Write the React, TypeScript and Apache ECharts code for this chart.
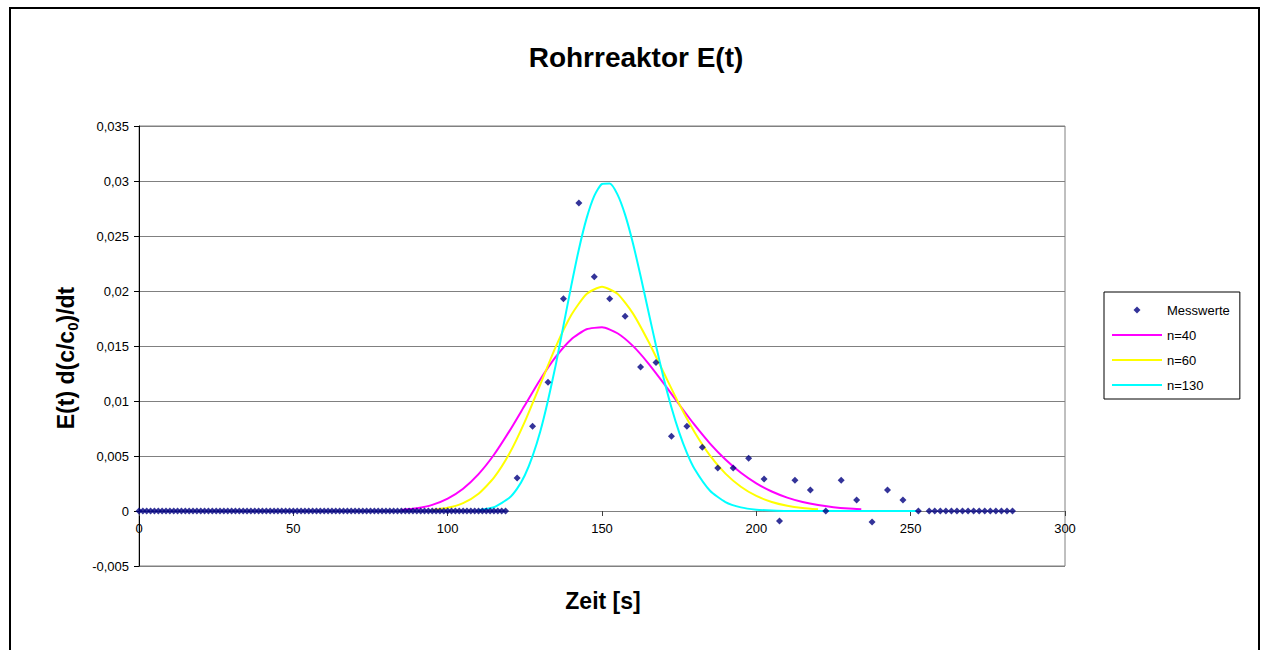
import React, { useEffect, useRef } from "react";
import * as echarts from "echarts";

const FONT = "'Liberation Sans', Arial, Helvetica, sans-serif";

// Baseline measurements (all read as 0) before and after the pulse
const baselineLeftT = [
  0, 1.25, 2.5, 3.75, 5, 6.25, 7.5, 8.75, 10, 11.25, 12.5, 13.75, 15, 16.25, 17.5, 18.75,
  20, 21.25, 22.5, 23.75, 25, 26.25, 27.5, 28.75, 30, 31.25, 32.5, 33.75, 35, 36.25, 37.5, 38.75,
  40, 41.25, 42.5, 43.75, 45, 46.25, 47.5, 48.75, 50, 51.25, 52.5, 53.75, 55, 56.25, 57.5, 58.75,
  60, 61.25, 62.5, 63.75, 65, 66.25, 67.5, 68.75, 70, 71.25, 72.5, 73.75, 75, 76.25, 77.5, 78.75,
  80, 81.25, 82.5, 83.75, 85, 86.25, 87.5, 88.75, 90, 91.25, 92.5, 93.75, 95, 96.25, 97.5, 98.75,
  100, 101.25, 102.5, 103.75, 105, 106.25, 107.5, 108.75, 110, 111.25, 112.5, 113.75, 115, 116.25,
  117.5, 118.75,
];
const baselineRightT = [
  256, 257.8, 259.6, 261.4, 263.2, 265, 266.8, 268.6, 270.4, 272.2, 274, 275.8, 277.6, 279.4, 281.2, 283,
];

// Measured pulse
const messT = [
  122.5, 127.5, 132.5, 137.5, 142.5, 147.5, 152.5, 157.5, 162.5, 167.5, 172.5, 177.5, 182.5, 187.5,
  192.5, 197.5, 202.5, 207.5, 212.5, 217.5, 222.5, 227.5, 232.5, 237.5, 242.5, 247.5, 252.5,
];
const messE = [
  0.003, 0.0077, 0.0117, 0.0193, 0.028, 0.0213, 0.0193, 0.0177, 0.0131, 0.0135, 0.0068, 0.0077,
  0.0058, 0.0039, 0.0039, 0.0048, 0.0029, -0.0009, 0.0028, 0.0019, 0.0, 0.0028, 0.001, -0.001,
  0.0019, 0.001, 0.0,
];

// Model curves
const n40T = [
  85, 90, 95, 100, 105, 110, 115, 120, 125, 130, 135, 140, 145, 150, 155, 160, 165, 170, 175, 180,
  185, 190, 195, 200, 205, 210, 215, 220, 225, 230, 234,
];
const n40E = [
  0.0001, 0.00025, 0.00056, 0.00113, 0.00203, 0.00335, 0.00511, 0.00726, 0.00961, 0.01196, 0.01401,
  0.0156, 0.01652, 0.0167, 0.01616, 0.01501, 0.01343, 0.0116, 0.00968, 0.00782, 0.00613, 0.00468,
  0.00347, 0.00251, 0.00177, 0.00122, 0.00082, 0.00054, 0.00035, 0.00022, 0.00015,
];
const n60T = [
  95, 100, 105, 110, 115, 120, 125, 130, 135, 140, 145, 150, 155, 160, 165, 170, 175, 180, 185, 190,
  195, 200, 205, 210, 215, 220,
];
const n60E = [
  0.0001, 0.00029, 0.00072, 0.00157, 0.00303, 0.00522, 0.00813, 0.0115, 0.01492, 0.01779, 0.01973,
  0.02039, 0.01974, 0.01797, 0.01543, 0.01257, 0.00972, 0.00716, 0.00504, 0.0034, 0.00221, 0.00137,
  0.00082, 0.00048, 0.00027, 0.00015,
];
const n130T = [
  110, 115, 120, 122.5, 125, 127.5, 130, 132.5, 135, 137.5, 140, 142.5, 145, 147.5, 150, 152.5, 155,
  157.5, 160, 162.5, 165, 167.5, 170, 172.5, 175, 177.5, 180, 185, 190, 195, 200, 205, 210, 220, 230,
  240, 252,
];
const n130E = [
  0.00008, 0.00035, 0.0012, 0.00203, 0.00325, 0.00499, 0.00723, 0.01005, 0.01326, 0.01683, 0.02042,
  0.02378, 0.0266, 0.02865, 0.02973, 0.02977, 0.02878, 0.02692, 0.02437, 0.02136, 0.01818, 0.01502,
  0.01205, 0.00941, 0.00715, 0.00529, 0.00382, 0.00184, 0.00081, 0.00033, 0.00012, 0.00004, 0, 0, 0,
  0, 0,
];

const seriesNames = ["Messwerte", "n=40", "n=60", "n=130"];
const titleText = "Rohrreaktor E(t)";
const xTitle = "Zeit [s]";

const pairs = (t: number[], e: number[]) => t.map((v, i) => [v, e[i]]);

const LINE_ICON = "path://M0,0M50,14M0,6L50,6L50,8L0,8Z";
const DOT_ICON = "path://M0,0M14,14M7,3.5L10.5,7L7,10.5L3.5,7Z";

export default function App() {
  const ref = useRef<HTMLDivElement>(null);
  useEffect(() => {
    const chart = echarts.init(ref.current!, null, { renderer: "svg" });
    const measured = [
      ...baselineLeftT.map((t) => [t, 0]),
      ...pairs(messT, messE),
      ...baselineRightT.map((t) => [t, 0]),
    ];
    chart.setOption({
      animation: false,
      backgroundColor: "#fff",
      textStyle: { fontFamily: FONT },
      grid: {
        left: 139,
        right: 197,
        top: 126,
        bottom: 84,
        show: true,
        borderColor: "#808080",
        borderWidth: 1,
      },
      xAxis: {
        type: "value",
        min: 0,
        max: 300,
        interval: 50,
        offset: -55,
        axisLine: { onZero: false, lineStyle: { color: "#808080", width: 1 } },
        axisTick: { show: true, length: 5, inside: false, lineStyle: { color: "#404040" } },
        axisLabel: { fontSize: 13, color: "#000", margin: 11, fontFamily: FONT },
        splitLine: { show: false },
      },
      yAxis: {
        type: "value",
        min: -0.005,
        max: 0.035,
        interval: 0.005,
        axisLine: { show: true, onZero: false, lineStyle: { color: "#000", width: 1 } },
        axisTick: { show: true, length: 5, lineStyle: { color: "#000" } },
        axisLabel: {
          fontSize: 13,
          color: "#000",
          margin: 10,
          fontFamily: FONT,
          formatter: (v: number) => parseFloat(v.toFixed(4)).toString().replace(".", ","),
        },
        splitLine: { show: true, lineStyle: { color: "#808080", width: 1 } },
      },
      legend: {
        orient: "vertical",
        left: 1104,
        top: 292,
        itemWidth: 50,
        itemHeight: 14,
        itemGap: 11,
        padding: [11, 10, 7, 8],
        borderColor: "#000",
        borderWidth: 1,
        textStyle: { fontSize: 13, color: "#000", fontFamily: FONT },
        data: [
          { name: seriesNames[0], icon: DOT_ICON },
          { name: seriesNames[1], icon: LINE_ICON },
          { name: seriesNames[2], icon: LINE_ICON },
          { name: seriesNames[3], icon: LINE_ICON },
        ],
      },
      graphic: [
        {
          type: "text",
          x: 636,
          y: 57,
          style: {
            text: titleText,
            font: `bold 28px ${FONT}`,
            fill: "#000",
            align: "center",
            verticalAlign: "middle",
          },
        },
        {
          type: "text",
          x: 603,
          y: 601,
          style: {
            text: xTitle,
            font: `bold 23px ${FONT}`,
            fill: "#000",
            align: "center",
            verticalAlign: "middle",
          },
        },
        {
          type: "text",
          x: 66,
          y: 358,
          rotation: Math.PI / 2,
          style: {
            text: "{a|E(t) d(c/c}{b|0}{a|)/dt}",
            align: "center",
            verticalAlign: "middle",
            fill: "#000",
            rich: {
              a: { fontSize: 23, fontWeight: "bold", fontFamily: FONT, fill: "#000" },
              b: {
                fontSize: 15,
                fontWeight: "bold",
                fontFamily: FONT,
                fill: "#000",
                padding: [12, 0, 0, 0],
              },
            },
          },
        },
      ],
      series: [
        {
          name: seriesNames[0],
          type: "scatter",
          symbol: "diamond",
          symbolSize: 7,
          itemStyle: { color: "#000080" },
          data: measured,
          z: 5,
        },
        {
          name: seriesNames[1],
          type: "line",
          symbol: "none",
          smooth: 0.2,
          lineStyle: { color: "#FF00FF", width: 2 },
          itemStyle: { color: "#FF00FF" },
          data: pairs(n40T, n40E),
          z: 3,
        },
        {
          name: seriesNames[2],
          type: "line",
          symbol: "none",
          smooth: 0.2,
          lineStyle: { color: "#FFFF00", width: 2 },
          itemStyle: { color: "#FFFF00" },
          data: pairs(n60T, n60E),
          z: 3,
        },
        {
          name: seriesNames[3],
          type: "line",
          symbol: "none",
          smooth: 0.2,
          lineStyle: { color: "#00FFFF", width: 2 },
          itemStyle: { color: "#00FFFF" },
          data: pairs(n130T, n130E),
          z: 3,
        },
      ],
    });
    return () => chart.dispose();
  }, []);
  return (
    <>
      <div ref={ref} style={{ position: "fixed", left: 0, top: 0, width: 1262, height: 650 }} />
      <div
        style={{
          position: "fixed",
          left: 9,
          top: 7,
          width: 1251,
          height: 660,
          border: "2px solid #000",
          boxSizing: "border-box",
          pointerEvents: "none",
        }}
      />
    </>
  );
}
